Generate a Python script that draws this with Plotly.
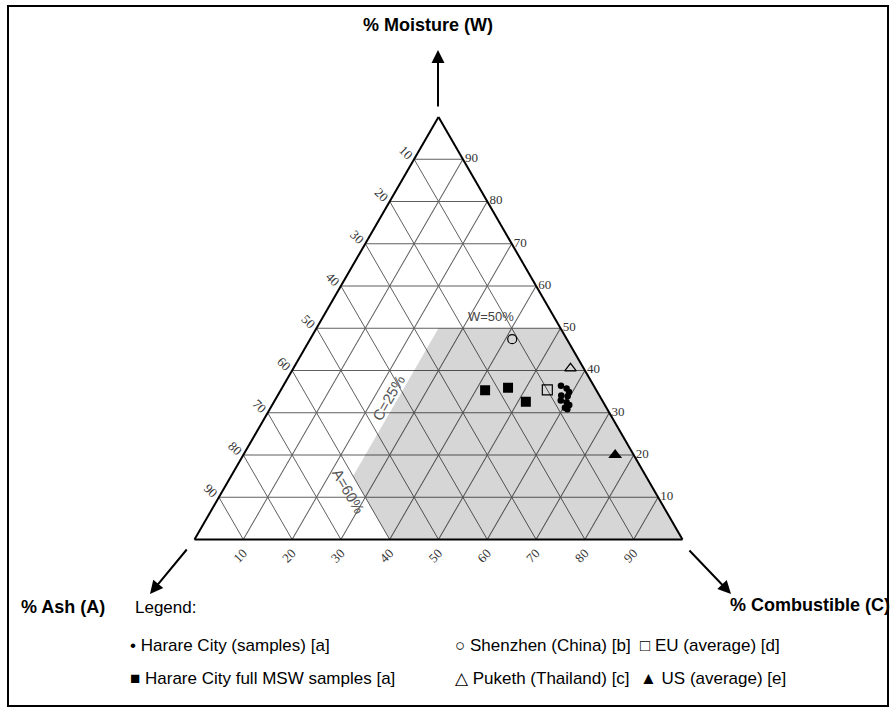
import plotly.graph_objects as go

# Composition in percent: moisture (W), ash (A), combustible (C)
harare_w = [36.4, 35.7, 34.9, 34.1, 33.9, 32.9, 32.5, 31.8, 31.2, 30.8]
harare_a = [6.7, 5.9, 5.8, 7.8, 6.6, 8.5, 7.5, 7.3, 8.5, 8.2]
harare_c = [56.9, 58.4, 59.3, 58.1, 59.5, 58.6, 60.0, 60.9, 60.3, 61.0]

msw_w = [35.3, 35.9, 32.6]
msw_a = [22.8, 17.8, 15.8]
msw_c = [41.9, 46.3, 51.6]

shenzhen_w, shenzhen_a, shenzhen_c = [47.4], [11.2], [41.4]
puketh_w, puketh_a, puketh_c = [40.5], [2.7], [56.8]
eu_w, eu_a, eu_c = [35.4], [10.0], [54.6]
us_w, us_a, us_c = [20.0], [3.8], [76.2]

# Tanner limits for self-sustaining combustion
w_max, a_max, c_min = 50, 60, 25

tick_vals = [10, 20, 30, 40, 50, 60, 70, 80, 90]

legend_rows = [
    ["•", "Harare City (samples) [a]"],
    ["■", "Harare City full MSW samples [a]"],
    ["○", "Shenzhen (China) [b]"],
    ["△", "Puketh (Thailand) [c]"],
    ["□", "EU (average) [d]"],
    ["▲", "US (average) [e]"],
]

W, H = 896, 713
# triangle placement in pixels
side = 488.0
tri_left = 194.5
tri_base = 539.5
tri_h = side * 3 ** 0.5 / 2


def to_paper(w, a, c):
    s = w + a + c
    w, c = w / s, c / s
    px = tri_left + (c + w / 2) * side
    py = tri_base - w * tri_h
    return px / W, 1 - py / H


def px(x, y):
    return x / W, 1 - y / H


fig = go.Figure()

# combustible region
reg_w = [w_max, w_max, 0, 0, 100 - a_max - c_min, w_max]
reg_c = [c_min, 100 - w_max, 100, 100 - a_max, c_min, c_min]
reg_a = [100 - w - c for w, c in zip(reg_w, reg_c)]
fig.add_trace(go.Scatterternary(
    a=reg_w, b=reg_a, c=reg_c, mode="lines", fill="toself",
    fillcolor="rgba(0,0,0,0.16)", line=dict(width=0), showlegend=False,
    hoverinfo="skip"))

fig.add_trace(go.Scatterternary(
    a=[w_max + 2.5], b=[13.0], c=[100 - w_max - 2.5 - 13.0], mode="text",
    text=["W=50%"], textfont=dict(family="Liberation Sans", size=13, color="#444"),
    showlegend=False, hoverinfo="skip"))

mk_line = dict(color="black", width=1.2)
fig.add_trace(go.Scatterternary(
    a=harare_w, b=harare_a, c=harare_c, mode="markers", name=legend_rows[0][1],
    marker=dict(symbol="circle", size=6.5, color="black")))
fig.add_trace(go.Scatterternary(
    a=msw_w, b=msw_a, c=msw_c, mode="markers", name=legend_rows[1][1],
    marker=dict(symbol="square", size=10, color="black")))
fig.add_trace(go.Scatterternary(
    a=shenzhen_w, b=shenzhen_a, c=shenzhen_c, mode="markers", name=legend_rows[2][1],
    marker=dict(symbol="circle-open", size=9, color="black", line=mk_line)))
fig.add_trace(go.Scatterternary(
    a=puketh_w, b=puketh_a, c=puketh_c, mode="markers", name=legend_rows[3][1],
    marker=dict(symbol="triangle-up-open", size=10, color="black", line=mk_line)))
fig.add_trace(go.Scatterternary(
    a=eu_w, b=eu_a, c=eu_c, mode="markers", name=legend_rows[4][1],
    marker=dict(symbol="square-open", size=10, color="black", line=mk_line)))
fig.add_trace(go.Scatterternary(
    a=us_w, b=us_a, c=us_c, mode="markers", name=legend_rows[5][1],
    marker=dict(symbol="triangle-up", size=12, color="black")))

tickfont = dict(family="Liberation Serif", size=13, color="#333")


def axis(angle):
    return dict(
        min=0, tickmode="array", tickvals=tick_vals,
        ticktext=[str(100 - v) for v in tick_vals],
        tickangle=angle, tickfont=tickfont, ticks="", showline=True,
        linecolor="black", linewidth=2, showgrid=True, gridcolor="#5f5f5f",
        gridwidth=1, title=dict(text=""))


fig.update_layout(
    width=W, height=H, margin=dict(l=0, r=0, t=0, b=0),
    paper_bgcolor="white", showlegend=False,
    ternary=dict(
        sum=100, bgcolor="white",
        domain=dict(x=[tri_left / W, (tri_left + side) / W],
                    y=[1 - tri_base / H, 1 - (tri_base - tri_h) / H]),
        aaxis=axis(45), baxis=axis(-45), caxis=axis(0)),
    font=dict(family="Liberation Sans", color="black"),
)

ann = []
# rotated limit labels
for txt, pos, ang in [("C=25%", (33.5, 43.4, 23.1), -60),
                      ("A=60%", (11.4, 62.7, 25.9), 60)]:
    x, y = to_paper(*pos)
    ann.append(dict(x=x, y=y, xref="paper", yref="paper", text=txt,
                    textangle=ang, showarrow=False, xanchor="center",
                    yanchor="middle",
                    font=dict(family="Liberation Sans", size=15, color="#555")))

# axis titles and arrows
title_font = dict(family="Liberation Sans", size=18, color="black")
for txt, (x, y), anchor in [("<b>% Moisture (W)</b>", (428, 25), "center"),
                            ("<b>% Ash (A)</b>", (63, 607), "center"),
                            ("<b>% Combustible (C)</b>", (892, 605), "right")]:
    xp, yp = px(x, y)
    ann.append(dict(x=xp, y=yp, xref="paper", yref="paper", text=txt,
                    xanchor=anchor, yanchor="middle", showarrow=False,
                    font=title_font))

for (hx, hy), (tx, ty) in [((438, 50), (438, 108)),
                           ((150, 594), (188, 548)),
                           ((731, 594), (688, 549))]:
    xp, yp = px(hx, hy)
    ann.append(dict(x=xp, y=yp, xref="paper", yref="paper", text="",
                    showarrow=True, ax=tx - hx, ay=ty - hy, arrowhead=2,
                    arrowsize=1.3, arrowwidth=2, arrowcolor="black"))

# legend block
leg_font = dict(family="Liberation Sans", size=17, color="black")
xp, yp = px(133, 607)
ann.append(dict(x=xp, y=yp, xref="paper", yref="paper", text="Legend:",
                xanchor="left", yanchor="middle", showarrow=False,
                font=leg_font))
cols = [128, 453, 638]
rows = [645, 678]
for i, (sym, label) in enumerate(legend_rows):
    cx = cols[i // 2]
    cy = rows[i % 2]
    xp, yp = px(cx, cy)
    ann.append(dict(x=xp, y=yp, xref="paper", yref="paper",
                    text=sym + " " + label, xanchor="left", yanchor="middle",
                    showarrow=False, font=leg_font))

fig.update_layout(annotations=ann)

# outer frame
fig.add_shape(type="rect", xref="paper", yref="paper",
              x0=8 / W, x1=888 / W, y0=1 - 706 / H, y1=1 - 6 / H,
              line=dict(color="black", width=2))

fig.write_html("out.html")
